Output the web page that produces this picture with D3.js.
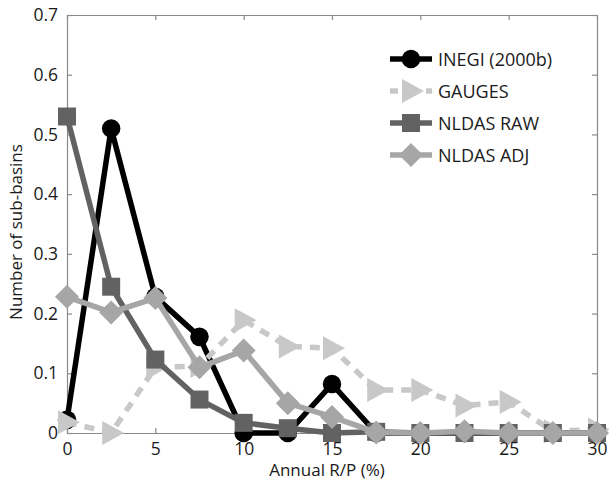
<!DOCTYPE html>
<html>
<head>
<meta charset="utf-8">
<script src="https://cdn.jsdelivr.net/npm/d3@7"></script>
<style>
  body { margin: 0; background: #fff; }
  text { font-family: "Open Sans", "Noto Sans", sans-serif; }
</style>
</head>
<body>
<div id="chart"></div>
<script>
// data
const xValues = [0, 2.5, 5, 7.5, 10, 12.5, 15, 17.5, 20, 22.5, 25, 27.5, 30];
const inegi   = [0.022, 0.51, 0.228, 0.161, 0, 0, 0.082, 0, 0, 0, 0, 0, 0];
const gauges  = [0.018, 0, 0.11, 0.112, 0.189, 0.145, 0.142, 0.072, 0.072, 0.046, 0.052, 0.003, 0.006];
const nldasRaw = [0.53, 0.245, 0.123, 0.056, 0.017, 0.008, 0, 0.002, 0, 0, 0, 0, 0];
const nldasAdj = [0.228, 0.202, 0.226, 0.11, 0.138, 0.05, 0.027, 0.001, 0, 0.003, 0, 0, 0];
const seriesNames = ['INEGI (2000b)', 'GAUGES', 'NLDAS RAW', 'NLDAS ADJ'];
const xTicks = [0, 5, 10, 15, 20, 25, 30];
const yTicks = [0, 0.1, 0.2, 0.3, 0.4, 0.5, 0.6, 0.7];

const W = 609, H = 482;
const margin = { top: 15, right: 12, bottom: 49, left: 67 };
const width = W - margin.left - margin.right;
const height = H - margin.top - margin.bottom;

const svg = d3.select('#chart').append('svg')
  .attr('width', W)
  .attr('height', H);

const xScale = d3.scaleLinear().domain([0, 30]).range([0, width]);
const yScale = d3.scaleLinear().domain([0, 0.7]).range([height, 0]);

const g = svg.append('g')
  .attr('transform', `translate(${margin.left}, ${margin.top})`);

// axes (matlab style box, ticks inward)
const axisColor = '#8a8a8a';
function styleAxis(sel, showText) {
  sel.select('.domain').attr('stroke', axisColor).attr('stroke-width', 1.2);
  sel.selectAll('.tick line').attr('stroke', axisColor).attr('stroke-width', 1.2);
  sel.selectAll('.tick text')
    .attr('fill', '#1a1a1a')
    .style('font-size', '17.5px')
    .style('display', showText ? null : 'none');
}

g.append('g')
  .attr('transform', `translate(0, ${height})`)
  .call(d3.axisBottom(xScale).tickValues(xTicks).tickSize(-5).tickSizeOuter(0).tickPadding(10))
  .call(s => styleAxis(s, true));

g.append('g')
  .call(d3.axisTop(xScale).tickValues(xTicks).tickSize(-5).tickSizeOuter(0))
  .call(s => styleAxis(s, false));

g.append('g')
  .call(d3.axisLeft(yScale).tickValues(yTicks).tickSize(-5).tickSizeOuter(0).tickPadding(9)
    .tickFormat(d => d === 0 ? '0' : d3.format('.1f')(d)))
  .call(s => styleAxis(s, true));

g.append('g')
  .attr('transform', `translate(${width}, 0)`)
  .call(d3.axisRight(yScale).tickValues(yTicks).tickSize(-5).tickSizeOuter(0))
  .call(s => styleAxis(s, false));

// axis titles
svg.append('text')
  .attr('x', margin.left + width / 2 - 5)
  .attr('y', H - 6)
  .attr('text-anchor', 'middle')
  .attr('fill', '#1a1a1a')
  .style('font-size', '17px')
  .text('Annual R/P (%)');

svg.append('text')
  .attr('transform', `translate(22, ${margin.top + height / 2 + 8}) rotate(-90)`)
  .attr('text-anchor', 'middle')
  .attr('fill', '#1a1a1a')
  .style('font-size', '17px')
  .text('Number of sub-basins');

// series definitions
const series = [
  { name: seriesNames[0], values: inegi, color: '#000000', dash: null, marker: 'circle' },
  { name: seriesNames[1], values: gauges, color: '#c8c8c8', dash: '10,8', marker: 'triangle' },
  { name: seriesNames[2], values: nldasRaw, color: '#626262', dash: null, marker: 'square' },
  { name: seriesNames[3], values: nldasAdj, color: '#a6a6a6', dash: null, marker: 'diamond' }
];

function markerPath(type) {
  if (type === 'circle') return d3.symbol(d3.symbolCircle, 270)();
  if (type === 'square') return 'M-9,-9L9,-9L9,9L-9,9Z';
  if (type === 'diamond') return 'M0,-12L12,0L0,12L-12,0Z';
  return 'M-9,-12L13,0L-9,12Z';
}

const line = d3.line()
  .x((d, i) => xScale(xValues[i]))
  .y(d => yScale(d));

series.forEach(s => {
  const sg = g.append('g').attr('class', 'series');
  sg.append('path')
    .datum(s.values)
    .attr('d', line)
    .attr('fill', 'none')
    .attr('stroke', s.color)
    .attr('stroke-width', 5.5)
    .attr('stroke-linejoin', 'round')
    .attr('stroke-dasharray', s.dash);
  sg.selectAll('.marker')
    .data(s.values)
    .enter().append('path')
    .attr('class', 'marker')
    .attr('transform', (d, i) => `translate(${xScale(xValues[i])}, ${yScale(d)})`)
    .attr('d', markerPath(s.marker))
    .attr('fill', s.color);
});

// legend
const legend = svg.append('g').attr('transform', 'translate(390, 59)');
series.forEach((s, i) => {
  const row = legend.append('g').attr('transform', `translate(0, ${i * 32})`);
  row.append('line')
    .attr('x1', 0).attr('x2', 42)
    .attr('stroke', s.color)
    .attr('stroke-width', 5.5)
    .attr('stroke-dasharray', s.dash ? '8,10' : null);
  row.append('path')
    .attr('transform', 'translate(21, 0)')
    .attr('d', markerPath(s.marker))
    .attr('fill', s.color);
  row.append('text')
    .attr('x', 48)
    .attr('y', 6.5)
    .attr('fill', '#1a1a1a')
    .style('font-size', '18px')
    .text(s.name);
});
</script>
</body>
</html>
